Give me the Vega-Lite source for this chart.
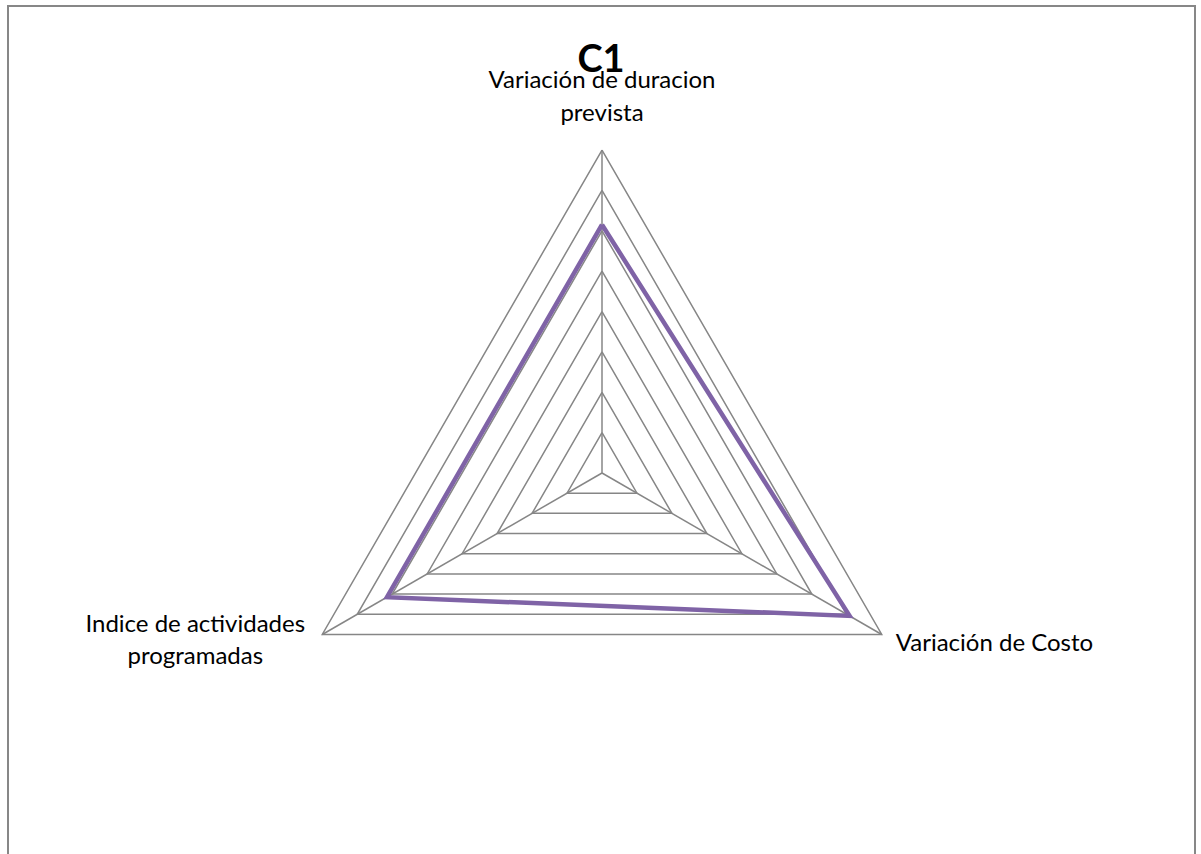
{
  "$schema": "https://vega.github.io/schema/vega-lite/v6.json",
  "width": 1187,
  "height": 852,
  "autosize": {"type": "none"},
  "padding": {"left": 8, "top": 6, "right": 6, "bottom": 0},
  "background": "white",
  "config": {"view": {"stroke": "#878787", "strokeWidth": 2}, "font": "Lato"},
  "layer": [
    {
      "data": {"values": [
        {"ring": 1, "axis": [0, 1, 2, 0], "ord": [0, 1, 2, 3]},
        {"ring": 2, "axis": [0, 1, 2, 0], "ord": [0, 1, 2, 3]},
        {"ring": 3, "axis": [0, 1, 2, 0], "ord": [0, 1, 2, 3]},
        {"ring": 4, "axis": [0, 1, 2, 0], "ord": [0, 1, 2, 3]},
        {"ring": 5, "axis": [0, 1, 2, 0], "ord": [0, 1, 2, 3]},
        {"ring": 6, "axis": [0, 1, 2, 0], "ord": [0, 1, 2, 3]},
        {"ring": 7, "axis": [0, 1, 2, 0], "ord": [0, 1, 2, 3]},
        {"ring": 8, "axis": [0, 1, 2, 0], "ord": [0, 1, 2, 3]}
      ]},
      "transform": [
        {"flatten": ["axis", "ord"]},
        {"calculate": "datum.ring * sin(datum.axis * 2 * PI / 3)", "as": "px"},
        {"calculate": "datum.ring * cos(datum.axis * 2 * PI / 3)", "as": "py"}
      ],
      "mark": {"type": "line", "color": "#868686", "strokeWidth": 1.5, "strokeJoin": "miter"},
      "encoding": {
        "x": {"field": "px", "type": "quantitative", "scale": {"domain": [-14.712, 14.687], "nice": false, "zero": false}, "axis": null},
        "y": {"field": "py", "type": "quantitative", "scale": {"domain": [-9.536, 11.567], "nice": false, "zero": false}, "axis": null},
        "detail": {"field": "ring", "type": "nominal"},
        "order": {"field": "ord", "type": "quantitative"}
      }
    },
    {
      "data": {"values": [{"axis": 0, "r": 8}, {"axis": 1, "r": 8}, {"axis": 2, "r": 8}]},
      "transform": [
        {"calculate": "datum.r * sin(datum.axis * 2 * PI / 3)", "as": "px"},
        {"calculate": "datum.r * cos(datum.axis * 2 * PI / 3)", "as": "py"}
      ],
      "mark": {"type": "rule", "color": "#868686", "strokeWidth": 1.5},
      "encoding": {
        "x": {"field": "px", "type": "quantitative"},
        "y": {"field": "py", "type": "quantitative"},
        "x2": {"datum": 0},
        "y2": {"datum": 0}
      }
    },
    {
      "data": {"values": [
        {"indicador": "Variación de duracion prevista", "axis": 0, "valor": 6.15, "ord": 0},
        {"indicador": "Variación de Costo", "axis": 1, "valor": 7.08, "ord": 1},
        {"indicador": "Indice de actividades programadas", "axis": 2, "valor": 6.15, "ord": 2},
        {"indicador": "Variación de duracion prevista", "axis": 0, "valor": 6.15, "ord": 3}
      ]},
      "transform": [
        {"calculate": "datum.valor * sin(datum.axis * 2 * PI / 3)", "as": "px"},
        {"calculate": "datum.valor * cos(datum.axis * 2 * PI / 3)", "as": "py"}
      ],
      "mark": {"type": "line", "color": "#7f63a6", "strokeWidth": 4.5, "strokeJoin": "miter"},
      "encoding": {
        "x": {"field": "px", "type": "quantitative"},
        "y": {"field": "py", "type": "quantitative"},
        "order": {"field": "ord", "type": "quantitative"}
      }
    },
    {
      "data": {"values": [{"label": "C1", "axis": 0, "r": 8}]},
      "transform": [
        {"calculate": "datum.r * sin(datum.axis * 2 * PI / 3)", "as": "px"},
        {"calculate": "datum.r * cos(datum.axis * 2 * PI / 3)", "as": "py"}
      ],
      "mark": {"type": "text", "fontSize": 38, "fontWeight": "bold", "color": "#000000", "align": "center", "baseline": "alphabetic", "dy": -78, "dx": -1},
      "encoding": {
        "x": {"field": "px", "type": "quantitative"},
        "y": {"field": "py", "type": "quantitative"},
        "text": {"field": "label"}
      }
    },
    {
      "data": {"values": [{"label": ["Variación de duracion", "prevista"], "axis": 0, "r": 8}]},
      "transform": [
        {"calculate": "datum.r * sin(datum.axis * 2 * PI / 3)", "as": "px"},
        {"calculate": "datum.r * cos(datum.axis * 2 * PI / 3)", "as": "py"}
      ],
      "mark": {"type": "text", "fontSize": 24, "color": "#000000", "align": "center", "baseline": "alphabetic", "dy": -62, "lineHeight": 33},
      "encoding": {
        "x": {"field": "px", "type": "quantitative"},
        "y": {"field": "py", "type": "quantitative"},
        "text": {"field": "label"}
      }
    },
    {
      "data": {"values": [{"label": "Variación de Costo", "axis": 1, "r": 8}]},
      "transform": [
        {"calculate": "datum.r * sin(datum.axis * 2 * PI / 3)", "as": "px"},
        {"calculate": "datum.r * cos(datum.axis * 2 * PI / 3)", "as": "py"}
      ],
      "mark": {"type": "text", "fontSize": 24, "color": "#000000", "align": "left", "baseline": "alphabetic", "dx": 14, "dy": 17},
      "encoding": {
        "x": {"field": "px", "type": "quantitative"},
        "y": {"field": "py", "type": "quantitative"},
        "text": {"field": "label"}
      }
    },
    {
      "data": {"values": [{"label": ["Indice de actividades", "programadas"], "axis": 2, "r": 8}]},
      "transform": [
        {"calculate": "datum.r * sin(datum.axis * 2 * PI / 3)", "as": "px"},
        {"calculate": "datum.r * cos(datum.axis * 2 * PI / 3)", "as": "py"}
      ],
      "mark": {"type": "text", "fontSize": 24, "color": "#000000", "align": "center", "baseline": "alphabetic", "dx": -127, "dy": -2, "lineHeight": 32},
      "encoding": {
        "x": {"field": "px", "type": "quantitative"},
        "y": {"field": "py", "type": "quantitative"},
        "text": {"field": "label"}
      }
    }
  ]
}
